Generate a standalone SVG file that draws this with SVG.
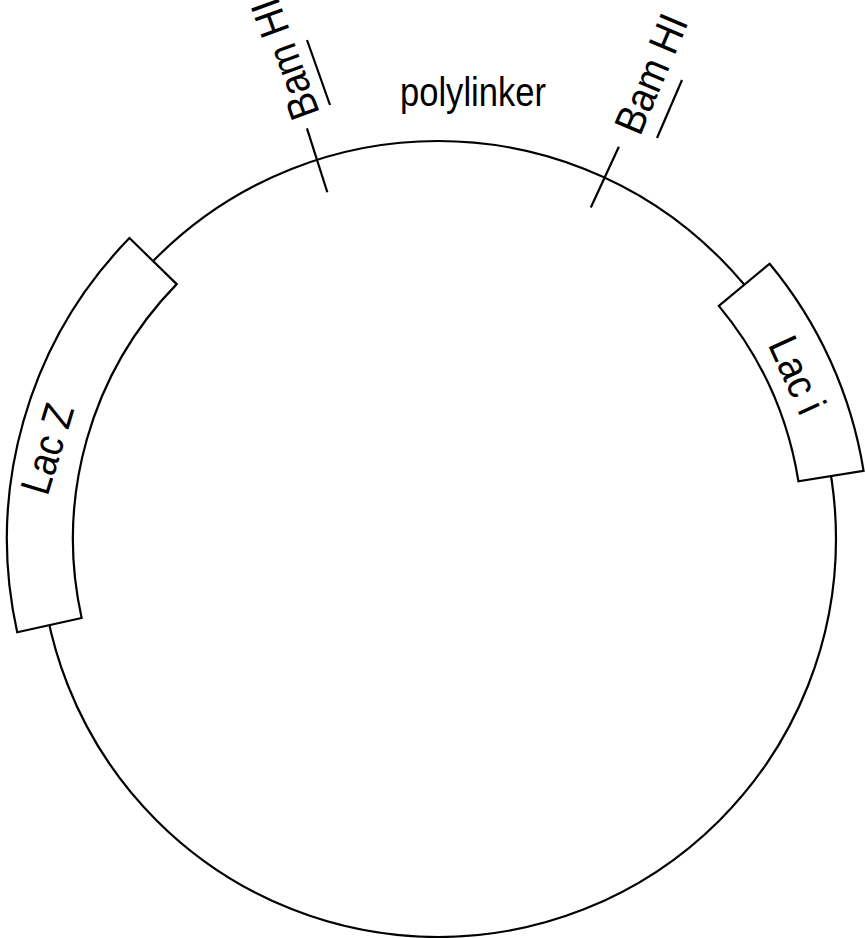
<svg xmlns="http://www.w3.org/2000/svg" width="866" height="938" viewBox="0 0 866 938">
  <style>
    .ln { fill: none; stroke: #000; stroke-width: 2.2; stroke-linecap: butt; }
    .box { fill: #fff; stroke: #000; stroke-width: 2.2; stroke-linejoin: miter; }
    .lbl { font-family: "Liberation Sans", Arial, sans-serif; fill: #000; }
  </style>
  <rect x="0" y="0" width="866" height="938" fill="#fff"/>
  <g id="plasmid">
    <circle class="ln" cx="438" cy="539" r="398"/>
  </g>
  <g id="connectors">
    <line class="ln" x1="306.96" y1="128.40" x2="327.33" y2="192.23"/>
    <line class="ln" x1="618.86" y1="146.68" x2="590.81" y2="207.53"/>
  </g>
  <g id="lacZ">
    <path class="box" d="M 17.21 632.29 A 431 431 0 0 1 129.46 238.06 L 176.71 284.14 A 365 365 0 0 0 81.65 618.0 Z"/>
    <text class="lbl" font-size="42" text-anchor="middle" textLength="92" lengthAdjust="spacingAndGlyphs" transform="translate(61,453) rotate(-73)">Lac Z</text>
  </g>
  <g id="lacI">
    <path class="box" d="M 769.61 263.69 A 431 431 0 0 1 863.57 470.83 L 798.40 481.27 A 365 365 0 0 0 718.83 305.85 Z"/>
    <text class="lbl" font-size="42" text-anchor="middle" textLength="80" lengthAdjust="spacingAndGlyphs" transform="translate(784,381) rotate(65.5)">Lac i</text>
  </g>
  <g id="bamhi-left">
    <text class="lbl" font-size="42" textLength="125" lengthAdjust="spacingAndGlyphs" transform="translate(320,113) rotate(-110)">Bam HI</text>
    <line class="ln" x1="307" y1="40" x2="330" y2="105"/>
  </g>
  <g id="bamhi-right">
    <text class="lbl" font-size="42" textLength="125" lengthAdjust="spacingAndGlyphs" transform="translate(640,137) rotate(-67)">Bam HI</text>
    <line class="ln" x1="657" y1="138" x2="682" y2="80"/>
  </g>
  <g id="polylinker">
    <text class="lbl" x="400" y="106" font-size="41" textLength="146" lengthAdjust="spacingAndGlyphs">polylinker</text>
  </g>
</svg>
